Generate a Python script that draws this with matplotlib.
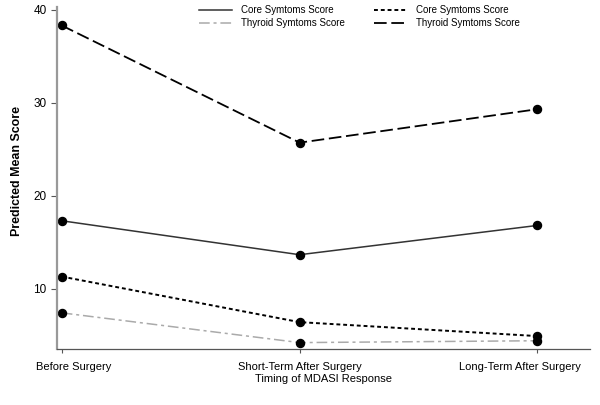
import matplotlib
matplotlib.use("Agg")
import matplotlib.pyplot as plt
import matplotlib.transforms as mtransforms

plt.rcParams['font.family'] = ['Liberation Sans', 'DejaVu Sans']

# x categories
timing = ["Before Surgery", "Short-Term After Surgery", "Long-Term After Surgery"]
xpos = [0, 1, 2]

# predicted mean scores
core_solid = [17.3, 13.65, 16.8]
core_dotted = [11.3, 6.4, 4.9]
thyroid_dashdot = [7.4, 4.2, 4.4]
thyroid_dashed = [38.3, 25.7, 29.3]

fig, ax = plt.subplots(figsize=(6, 4.05), dpi=100)
fig.subplots_adjust(left=0.095, right=0.983, top=0.983, bottom=0.138)

ms = 5.8
l1, = ax.plot(xpos, core_solid, color="#333333", lw=1.1, linestyle="solid",
              marker="o", markersize=ms, mfc="black", mec="black", label="Core Symtoms Score")
l2, = ax.plot(xpos, thyroid_dashdot, color="#aaaaaa", lw=1.1, linestyle=(0, (7, 2.5, 2, 2.5)),
              marker="o", markersize=ms, mfc="black", mec="black", label="Thyroid Symtoms Score")
l3, = ax.plot(xpos, core_dotted, color="black", lw=1.4, linestyle=(0, (2, 1.5)),
              marker="o", markersize=ms, mfc="black", mec="black", label="Core Symtoms Score")
l4, = ax.plot(xpos, thyroid_dashed, color="black", lw=1.3, linestyle=(0, (7, 2.6)),
              marker="o", markersize=ms, mfc="black", mec="black", label="Thyroid Symtoms Score")

ax.set_xlim(-0.02, 2.22)
ax.set_ylim(3.5, 40.3)
ax.set_xticks(xpos)
ax.set_xticklabels(timing, fontsize=8)
ax.set_yticks([10, 20, 30, 40])
ax.tick_params(axis="y", labelsize=8.5, length=4, color="#555555")
ax.tick_params(axis="x", length=3, color="#555555", pad=6)

# end labels are pulled inward, as in the original
shifts = [8.5, 0, -12.5]  # points
for lab, dx in zip(ax.get_xticklabels(), shifts):
    lab.set_transform(lab.get_transform() +
                      mtransforms.ScaledTranslation(dx / 72, 0, fig.dpi_scale_trans))

ax.spines["top"].set_visible(False)
ax.spines["right"].set_visible(False)
ax.spines["left"].set_color("#999999")
ax.spines["left"].set_linewidth(1.6)
ax.spines["bottom"].set_color("#555555")
ax.spines["bottom"].set_linewidth(0.9)

ax.set_ylabel("Predicted Mean Score", fontsize=8.9, fontweight="bold")
ax.yaxis.set_label_coords(-0.064, 0.52)
ax.set_xlabel("Timing of MDASI Response", fontsize=8, labelpad=1.5)

ax.legend(handles=[l1, l2, l3, l4], ncol=2, loc="upper center", bbox_to_anchor=(0.568, 1.03),
          frameon=False, fontsize=7, handlelength=3.4, columnspacing=3.0,
          labelspacing=0.3, markerscale=0, handletextpad=0.93)

fig.savefig("out.png", dpi=100)
